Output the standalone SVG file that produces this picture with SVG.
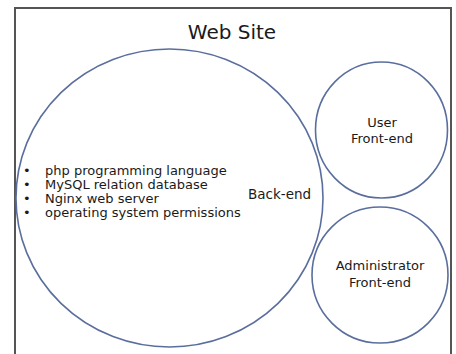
<svg xmlns="http://www.w3.org/2000/svg" width="456" height="354" viewBox="0 0 456 354">
<style>
.n{fill:none;stroke:#5a6e9e;stroke-width:1.6}
.t{font-family:"DejaVu Sans",sans-serif;fill:#1a1a1a}
.f{stroke:#555;stroke-width:2;fill:none}
</style>
<rect width="456" height="354" fill="#fff"/>
<path class="f" d="M15,354 V8 H451 V354"/>
<text class="t" x="232" y="39" font-size="20" text-anchor="middle">Web Site</text>
<g id="backend">
<ellipse class="n" cx="169.5" cy="198" rx="153.5" ry="149"/>
<text class="t" font-size="13" x="23" y="175">•</text>
<text class="t" font-size="13" x="23" y="189">•</text>
<text class="t" font-size="13" x="23" y="203">•</text>
<text class="t" font-size="13" x="23" y="217">•</text>
<text class="t" font-size="13" x="45" y="175">php programming language</text>
<text class="t" font-size="13" x="45" y="189">MySQL relation database</text>
<text class="t" font-size="13" x="45" y="203">Nginx web server</text>
<text class="t" font-size="13" x="45" y="217">operating system permissions</text>
<text class="t" font-size="13.5" x="248" y="199">Back-end</text>
</g>
<g id="user">
<ellipse class="n" cx="381.5" cy="130" rx="66" ry="68"/>
<text class="t" font-size="13" x="382" y="127" text-anchor="middle">User</text>
<text class="t" font-size="13" x="382" y="143" text-anchor="middle">Front-end</text>
</g>
<g id="admin">
<ellipse class="n" cx="380" cy="275" rx="68" ry="68"/>
<text class="t" font-size="13" x="380" y="270" text-anchor="middle">Administrator</text>
<text class="t" font-size="13" x="380" y="287" text-anchor="middle">Front-end</text>
</g>
<g id="connectors"/>
</svg>
